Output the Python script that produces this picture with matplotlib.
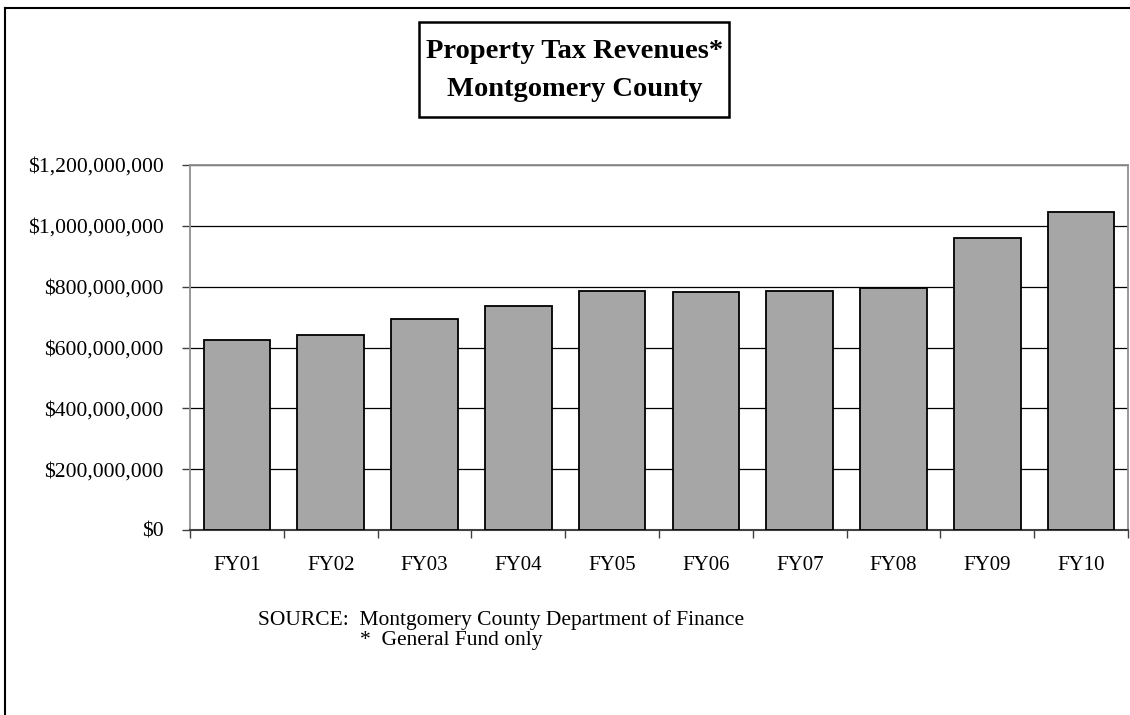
import numpy as np
import matplotlib
matplotlib.use('Agg')
import matplotlib.pyplot as plt
from matplotlib.patches import Rectangle
from matplotlib.lines import Line2D
from matplotlib.ticker import FuncFormatter

years = ['FY01', 'FY02', 'FY03', 'FY04', 'FY05', 'FY06', 'FY07', 'FY08', 'FY09', 'FY10']
revenues = [624e6, 642e6, 694e6, 736e6, 787e6, 781e6, 787e6, 795e6, 960e6, 1045e6]
yticks = [0, 200e6, 400e6, 600e6, 800e6, 1000e6, 1200e6]

plt.rcParams['font.family'] = ['Liberation Serif', 'DejaVu Serif']

W, H = 1130, 715
fig = plt.figure(figsize=(W / 100, H / 100), dpi=100)

def fx(px):
    return px / W

def fy(py):
    return 1 - py / H

# outer chart frame (top and left edges visible)
fig.add_artist(Line2D([fx(5), fx(1130)], [fy(8), fy(8)], color='black', lw=1.5))
fig.add_artist(Line2D([fx(5), fx(5)], [fy(8), fy(715)], color='black', lw=1.5))

ax = fig.add_axes([fx(190), fy(530), fx(1128) - fx(190), fy(165) - fy(530)])
x = np.arange(len(years))
ax.bar(x, revenues, width=0.71, color='#a6a6a6', edgecolor='black', linewidth=1.3, zorder=3)

ax.set_xlim(-0.5, len(years) - 0.5)
ax.set_ylim(0, 1200e6)
ax.set_yticks(yticks)
ax.yaxis.set_major_formatter(FuncFormatter(lambda v, p: '${:,.0f}'.format(v)))
ax.yaxis.grid(True, color='black', lw=0.9, zorder=0)

ax.set_xticks(np.arange(-0.5, len(years)), labels=[''] * (len(years) + 1))
ax.set_xticks(x, labels=years, minor=True)
ax.tick_params(axis='x', which='major', length=6, width=1, color='#404040', direction='out')
ax.tick_params(axis='x', which='minor', length=0, pad=19, labelsize=15)
ax.tick_params(axis='y', length=6, width=1, color='#404040', direction='out', labelsize=15.6, pad=13)

for s in ['left', 'top', 'right']:
    ax.spines[s].set_color('#909090')
    ax.spines[s].set_linewidth(1.3)
ax.spines['bottom'].set_color('#404040')
ax.spines['bottom'].set_linewidth(1.5)

# title box
fig.add_artist(Rectangle((fx(419), fy(117)), fx(729) - fx(419), fy(22) - fy(117),
                         fill=False, edgecolor='black', lw=1.8))
fig.text(fx(575), fy(52), 'Property Tax Revenues*', ha='center', va='center',
         fontsize=20.5, fontweight='bold')
fig.text(fx(575), fy(89), 'Montgomery County', ha='center', va='center',
         fontsize=20.5, fontweight='bold')

fig.text(fx(258), fy(620), 'SOURCE:  Montgomery County Department of Finance',
         ha='left', va='center', fontsize=15.5)
fig.text(fx(360), fy(641), '*  General Fund only', ha='left', va='center', fontsize=15.5)

fig.savefig('out.png', dpi=100)
